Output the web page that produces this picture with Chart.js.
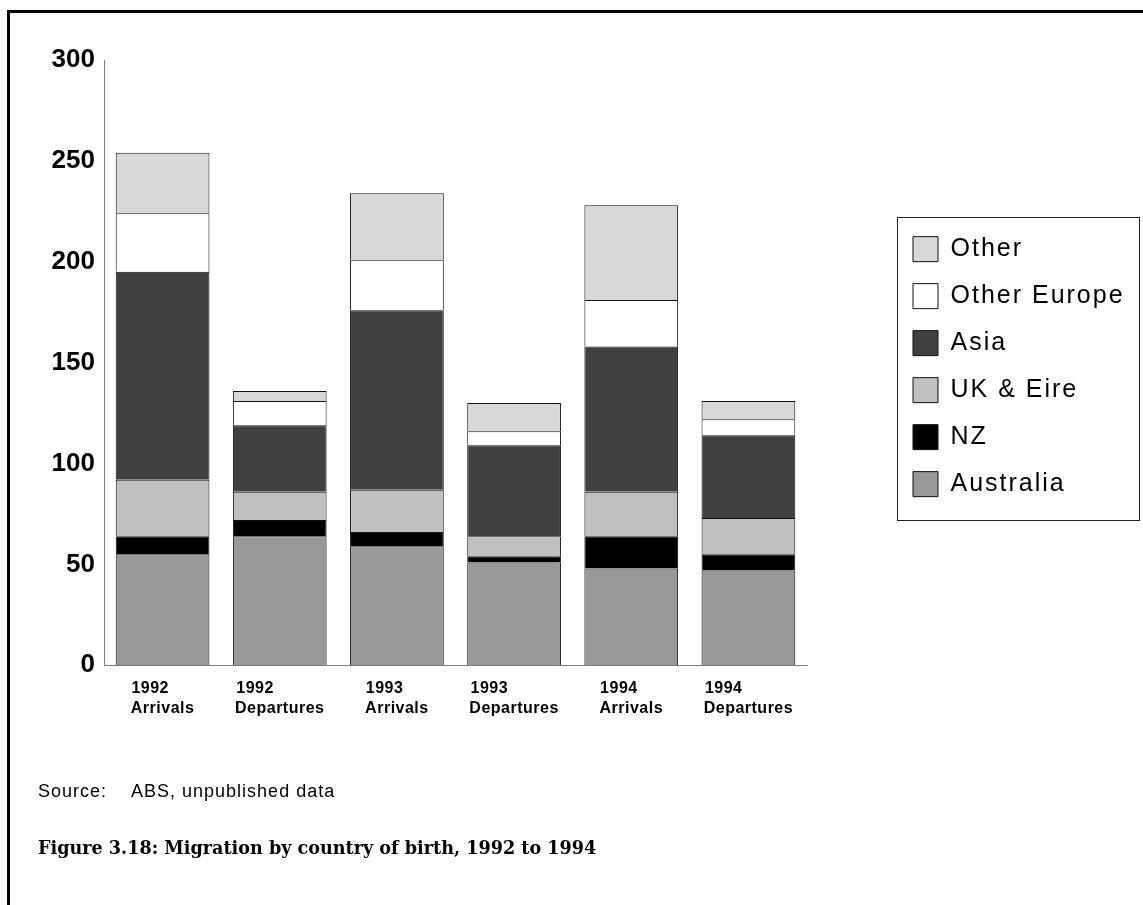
<!DOCTYPE html>
<html>
<head>
<meta charset="utf-8">
<script src="https://cdn.jsdelivr.net/npm/chart.js@4.4.1/dist/chart.umd.min.js"></script>
<style>
  html, body { margin: 0; padding: 0; background: #fff; }
  #wrap { position: relative; width: 1143px; height: 905px; overflow: hidden; }
  #frame { position: absolute; left: 7px; top: 10px; right: -10px; bottom: -10px;
           border-left: 3px solid #000; border-top: 3px solid #000; }
  canvas { position: absolute; left: 0; top: 0; }
</style>
</head>
<body>
<div id="wrap">
  <div id="frame"></div>
  <canvas id="chart" width="1143" height="905"></canvas>
</div>
<script>
// categories
const years = ['1992', '1992', '1993', '1993', '1994', '1994'];
const kinds = ['Arrivals', 'Departures', 'Arrivals', 'Departures', 'Arrivals', 'Departures'];
const yTicks = [0, 50, 100, 150, 200, 250, 300];

// series (thousands), bottom to top
const australia   = [55, 64, 59, 51, 48, 47];
const nz          = [9, 8, 7, 3, 16, 8];
const ukEire      = [28, 14, 21, 10, 22, 18];
const asia        = [103, 33, 89, 45, 72, 41];
const otherEurope = [29, 12, 25, 7, 23, 8];
const other       = [30, 5, 33, 14, 47, 9];

const SOURCE = 'Source:    ABS, unpublished data';
const CAPTION = 'Figure 3.18: Migration by country of birth, 1992 to 1994';

const SANS = '"Liberation Sans", Arial, sans-serif';
const SERIF = '"DejaVu Serif", "Liberation Serif", serif';
const X_SPACING = '0.5px';

// pad the year so both lines of a label start at the same x
const mctx = document.createElement('canvas').getContext('2d');
mctx.font = 'bold 16px ' + SANS;
mctx.letterSpacing = X_SPACING;
const labels = years.map((y, i) => {
  const target = mctx.measureText(kinds[i]).width;
  const sp = mctx.measureText(' ').width;
  let s = y;
  while (mctx.measureText(s + ' ').width <= target + sp / 2) s += ' ';
  return [s, kinds[i]];
});

function spaced(obj, name, px) {
  const orig = obj[name];
  obj[name] = function (...args) {
    const prev = this.ctx.letterSpacing;
    this.ctx.letterSpacing = px;
    const r = orig.apply(this, args);
    this.ctx.letterSpacing = prev;
    return r;
  };
}

const tweaks = {
  id: 'tweaks',
  beforeLayout(chart) {
    const lg = chart.legend;
    if (lg && !lg._tweaked) {
      const fit = lg.fit;
      lg.fit = function () { fit.call(this); this.width = 252; };
      spaced(lg, 'draw', '2px');
      lg._tweaked = true;
    }
  },
  beforeDraw(chart) {
    const x = chart.scales.x;
    if (!x._tweaked) { spaced(x, 'drawLabels', X_SPACING); x._tweaked = true; }
    const src = chart.boxes.find(b => b.options && b.options.text === SOURCE);
    if (src && !src._tweaked) { spaced(src, 'draw', '1px'); src._tweaked = true; }
  },
  afterDraw(chart) {
    // frame round the legend items
    const lg = chart.legend;
    const pad = lg.options.labels.padding;
    const colH = lg.columnSizes[0].height;
    const top = (lg.top + lg._computeTitleHeight() + pad + lg.bottom - colH) / 2;
    const ctx = chart.ctx;
    ctx.save();
    ctx.strokeStyle = '#222';
    ctx.lineWidth = 1;
    ctx.strokeRect(Math.round(lg.left + 6) + 0.5, Math.round(top - 20) + 0.5,
      chart.width - 4 - Math.round(lg.left + 6), colH + 21);
    ctx.restore();
  }
};

const bar = (label, data, color) => ({
  label, data, backgroundColor: color, borderColor: '#111', borderWidth: 1,
  barPercentage: 0.8, categoryPercentage: 1.0
});

new Chart(document.getElementById('chart'), {
  type: 'bar',
  data: {
    labels,
    datasets: [
      bar('Australia', australia, '#999999'),
      bar('NZ', nz, '#000000'),
      bar('UK & Eire', ukEire, '#c0c0c0'),
      bar('Asia', asia, '#404040'),
      bar('Other Europe', otherEurope, '#ffffff'),
      bar('Other', other, '#d8d8d8')
    ]
  },
  options: {
    responsive: false,
    animation: false,
    layout: { padding: { left: 38, top: 60, right: 0, bottom: 45 } },
    plugins: {
      tooltip: { enabled: false },
      legend: {
        position: 'right', reverse: true, fullSize: false,
        title: { display: true, text: ' ', font: { size: 8, lineHeight: 1 }, padding: 0 },
        labels: { boxWidth: 25, boxHeight: 25, padding: 22, color: '#000', font: { family: SANS, size: 25 } }
      },
      subtitle: {
        display: true, position: 'bottom', align: 'start',
        text: SOURCE, color: '#000',
        font: { family: SANS, size: 18, lineHeight: 1.2 }, padding: { top: 0, bottom: 36 }
      },
      title: {
        display: true, position: 'bottom', align: 'start',
        text: CAPTION, color: '#000',
        font: { family: SERIF, size: 17.6, weight: 'bold', lineHeight: 1.2 }, padding: { top: 0, bottom: 0 }
      }
    },
    scales: {
      x: {
        stacked: true,
        grid: { display: false, drawTicks: false },
        border: { display: true, color: '#808080', width: 1 },
        ticks: { color: '#000', padding: 13, maxRotation: 0, autoSkip: false,
                 font: { family: SANS, size: 16, weight: 'bold', lineHeight: 1.25 } },
        afterFit: s => { s.height = 116; }
      },
      y: {
        stacked: true, min: 0, max: 300,
        grid: { display: false, drawTicks: false },
        border: { display: true, color: '#808080', width: 1 },
        ticks: { color: '#000', padding: 9, font: { family: SANS, size: 26, weight: 'bold' } },
        afterBuildTicks: s => { s.ticks = yTicks.map(v => ({ value: v })); },
        afterFit: s => { s.width = 66; }
      },
      gap: {
        type: 'linear', position: 'right', display: true,
        grid: { display: false, drawTicks: false }, border: { display: false },
        ticks: { display: false },
        afterFit: s => { s.width = 84; }
      }
    }
  },
  plugins: [tweaks]
});
</script>
</body>
</html>
